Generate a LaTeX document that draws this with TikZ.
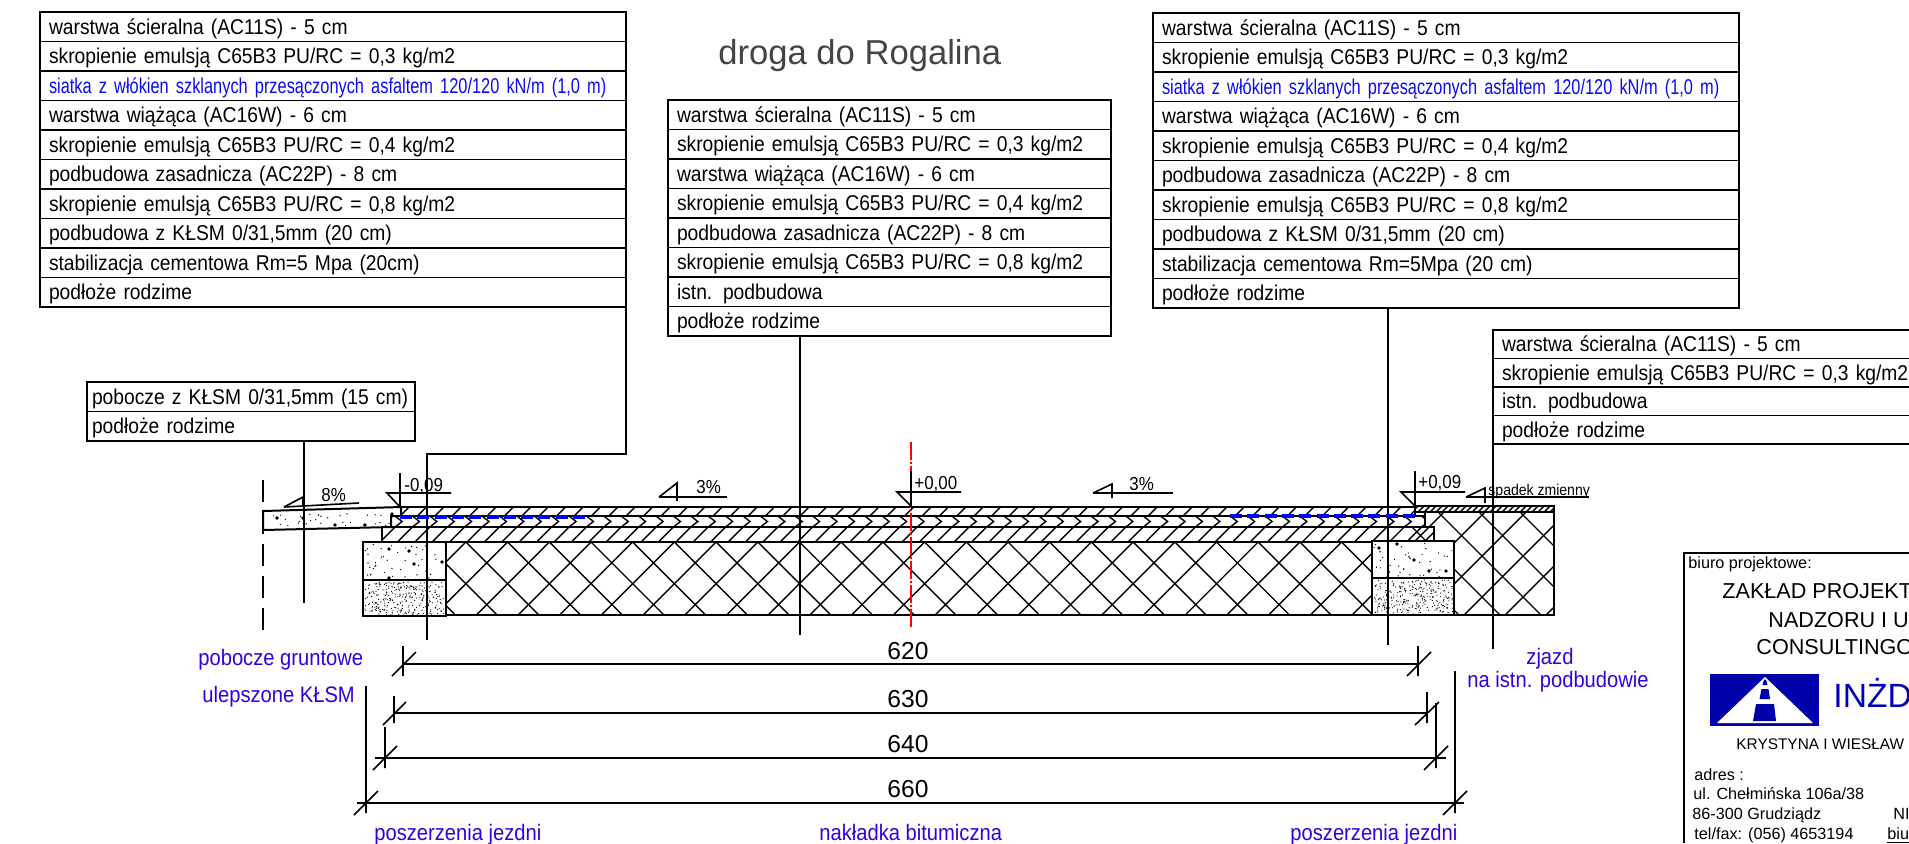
\documentclass[tikz,border=0pt]{standalone}
\usepackage{fontspec}
\setmainfont{Liberation Sans}
\newfontfamily\waski[FakeStretch=0.9]{Liberation Sans}
\newfontfamily\waskisiatka[FakeStretch=0.765]{Liberation Sans}
\usetikzlibrary{positioning}
\definecolor{opisniebieski}{HTML}{3300DD}
\definecolor{siatka}{HTML}{0A0AEE}
\definecolor{logoniebieski}{HTML}{0000AA}
\definecolor{tytul}{HTML}{444444}
\tikzset{
	wiersz/.style={draw, line width=.8pt, anchor=north west, outer sep=0pt, inner ysep=0pt, inner xsep=4.5pt,
		minimum height=14.75pt, text height=9pt, text depth=1.75pt, align=left, node distance=0pt,
		font=\waski\fontsize{10.7}{12}\selectfont},
	wiersz1/.style={wiersz, text width=284pt},
	wiersz2/.style={wiersz, text width=212.5pt},
	wiersz3/.style={wiersz, text width=284pt},
	wiersz4/.style={wiersz, text width=204pt, minimum height=14.25pt},
	wiersz5/.style={wiersz, text width=159pt, inner xsep=2.5pt},
	siatkowy/.style={text=siatka, font=\waskisiatka\fontsize{10.7}{12}\selectfont},
	opis/.style={inner sep=0pt, anchor=base west},
	niebieski/.style={opis, text=opisniebieski, font=\waski\fontsize{11.2}{12}\selectfont},
	rzedna/.style={opis, font=\waski\fontsize{9.4}{12}\selectfont},
	wymiar/.style={inner sep=0pt, anchor=base, font=\fontsize{12.3}{14}\selectfont},
	biuro/.style={opis, font=\fontsize{8.1}{10}\selectfont},
	firma/.style={opis, font=\fontsize{10.8}{12}\selectfont},
	gruba/.style={line width=1pt},
	linia/.style={line width=.8pt},
	hatch/.style={line width=.7pt}
}
\begin{document}
\begin{tikzpicture}[x=0.5pt,y=-0.5pt]
		\useasboundingbox (0,0) rectangle (1909,843);
		\clip (0,0) rectangle (1909,843);
		% tabele warstw
		\node [wiersz1] (a1) at (40,12) {warstwa ścieralna (AC11S) - 5 cm};
		\node [wiersz1,below=of a1] (a2) {skropienie emulsją C65B3 PU/RC = 0,3 kg/m2};
		\node [wiersz1,siatkowy,below=of a2] (a3) {siatka z włókien szklanych przesączonych asfaltem 120/120 kN/m (1,0 m)};
		\node [wiersz1,below=of a3] (a4) {warstwa wiążąca (AC16W) - 6 cm};
		\node [wiersz1,below=of a4] (a5) {skropienie emulsją C65B3 PU/RC = 0,4 kg/m2};
		\node [wiersz1,below=of a5] (a6) {podbudowa zasadnicza (AC22P) - 8 cm};
		\node [wiersz1,below=of a6] (a7) {skropienie emulsją C65B3 PU/RC = 0,8 kg/m2};
		\node [wiersz1,below=of a7] (a8) {podbudowa z KŁSM 0/31,5mm (20 cm)};
		\node [wiersz1,below=of a8] (a9) {stabilizacja cementowa Rm=5 Mpa (20cm)};
		\node [wiersz1,below=of a9] (a10) {podłoże rodzime};

		\node [wiersz2] (b1) at (668,100) {warstwa ścieralna (AC11S) - 5 cm};
		\node [wiersz2,below=of b1] (b2) {skropienie emulsją C65B3 PU/RC = 0,3 kg/m2};
		\node [wiersz2,below=of b2] (b3) {warstwa wiążąca (AC16W) - 6 cm};
		\node [wiersz2,below=of b3] (b4) {skropienie emulsją C65B3 PU/RC = 0,4 kg/m2};
		\node [wiersz2,below=of b4] (b5) {podbudowa zasadnicza (AC22P) - 8 cm};
		\node [wiersz2,below=of b5] (b6) {skropienie emulsją C65B3 PU/RC = 0,8 kg/m2};
		\node [wiersz2,below=of b6] (b7) {istn. podbudowa};
		\node [wiersz2,below=of b7] (b8) {podłoże rodzime};

		\node [wiersz3] (c1) at (1153,13) {warstwa ścieralna (AC11S) - 5 cm};
		\node [wiersz3,below=of c1] (c2) {skropienie emulsją C65B3 PU/RC = 0,3 kg/m2};
		\node [wiersz3,siatkowy,below=of c2] (c3) {siatka z włókien szklanych przesączonych asfaltem 120/120 kN/m (1,0 m)};
		\node [wiersz3,below=of c3] (c4) {warstwa wiążąca (AC16W) - 6 cm};
		\node [wiersz3,below=of c4] (c5) {skropienie emulsją C65B3 PU/RC = 0,4 kg/m2};
		\node [wiersz3,below=of c5] (c6) {podbudowa zasadnicza (AC22P) - 8 cm};
		\node [wiersz3,below=of c6] (c7) {skropienie emulsją C65B3 PU/RC = 0,8 kg/m2};
		\node [wiersz3,below=of c7] (c8) {podbudowa z KŁSM 0/31,5mm (20 cm)};
		\node [wiersz3,below=of c8] (c9) {stabilizacja cementowa Rm=5Mpa (20 cm)};
		\node [wiersz3,below=of c9] (c10) {podłoże rodzime};

		\node [wiersz4] (d1) at (1493,330) {warstwa ścieralna (AC11S) - 5 cm};
		\node [wiersz4,below=of d1] (d2) {skropienie emulsją C65B3 PU/RC = 0,3 kg/m2};
		\node [wiersz4,below=of d2] (d3) {istn. podbudowa};
		\node [wiersz4,below=of d3] (d4) {podłoże rodzime};

		\node [wiersz5] (e1) at (87,382) {pobocze z KŁSM 0/31,5mm (15 cm)};
		\node [wiersz5,below=of e1] (e2) {podłoże rodzime};

		\node [opis,text=tytul,font=\fontsize{17.3}{20}\selectfont] (tytul) at (718,64) {droga do Rogalina};

		% warstwy
		\begin{scope}
		\clip (401,507) rectangle (1415,516);
		\foreach \x in {400,417.4,...,1420} \draw [hatch] (\x,516) -- ++(9,-9);
		\end{scope}
		\begin{scope}
		\clip (391,516) rectangle (1425,527);
		\foreach \x in {395,412.4,...,1430} \draw [hatch] (\x,516) -- ++(7,5.5) -- ++(-7,5.5);
		\end{scope}
		\begin{scope}
		\clip (382,527) rectangle (1434,542);
		\foreach \x in {380,397.4,...,1440} \draw [hatch] (\x,542) -- ++(15,-15);
		\end{scope}
		\begin{scope}
		\clip (1415,506) rectangle (1554,512);
		\foreach \x in {1412,1418,...,1560} \draw [hatch] (\x,512) -- ++(6,-6);
		\end{scope}
		% kruszywo pod nawierzchnia
		\begin{scope}
		\clip (446,542) rectangle (1372,615);
		\foreach \n in {-16,...,11} {
			\pgfmathsetmacro\x{1008+41.7*\n}
			\draw [hatch] (\x,542) -- ++(-73,73);
			\draw [hatch] (\x,542) -- ++(73,73);
		}
		\end{scope}
		\begin{scope}
		\clip (1425,512) -- (1554,512) -- (1554,615) -- (1454,615) -- (1454,542) -- (1410,542) -- (1410,527) -- (1425,527) -- cycle;
		\foreach \n in {-3,...,6} {
			\pgfmathsetmacro\x{1441+41*\n}
			\draw [hatch] (\x-10,505) -- ++(120,120);
			\draw [hatch] (\x+10,505) -- ++(-120,120);
		}
		\end{scope}
		\draw [gruba] (401,516) rectangle (1415,507);
		\draw [gruba] (391,516) rectangle (1425,527);
		\draw [gruba] (382,527) rectangle (1434,542);
		\draw [gruba] (1415,506) -- (1554,506) -- (1554,615) -- (446,615);
		\draw [gruba] (1415,512) -- (1554,512);
		\draw [gruba] (1425,516) -- (1425,512);
		\draw [gruba] (1434,527) -- (1434,542) -- (1454,542);

		% krawezniki i pobocze
		\draw [gruba,fill=white] (363,542) rectangle (446,580);
		\draw [gruba,fill=white] (363,580) rectangle (446,616);
		\draw [gruba,fill=white] (1372,541) rectangle (1454,578);
		\draw [gruba,fill=white] (1372,578) rectangle (1454,615);
		\draw [gruba,fill=white] (263,511) -- (401,507) -- (401,516) -- (391,516) -- (391,527) -- (263,530) -- cycle;
		\pgfmathsetseed{7}
		\foreach \i in {1,...,30} {
			\pgfmathsetmacro\px{266+125*rnd}
			\pgfmathsetmacro\py{513+13*rnd}
			\fill (\px,\py) circle (.35pt);
		}
		\foreach \px/\py in {277/518,303/518,335/525,365/525,392/514} \fill (\px,\py) circle (.9pt);
		\foreach \a/\b in {363/542,1372/541} {
			\foreach \i in {1,...,40} {
				\pgfmathsetmacro\px{\a+2+79*rnd}
				\pgfmathsetmacro\py{\b+2+34*rnd}
				\fill (\px,\py) circle (.35pt);
			}
		}
		\foreach \px/\py in {389/549,409/551,414/564,442/562,389/578,1379/548,1397/544,1414/560,1429/571,1446/571} \fill (\px,\py) circle (.9pt);
		\foreach \a/\b in {363/580,1372/578} {
			\foreach \i in {1,...,300} {
				\pgfmathsetmacro\px{\a+2+79*rnd}
				\pgfmathsetmacro\py{\b+2+33*rnd}
				\fill (\px,\py) circle (.3pt);
			}
		}

		% linie odniesienia
		\coordinate (k1a) at (626,454);
		\coordinate (k1b) at (427,454);
		\coordinate (k1) at (427,640);
		\coordinate (k2) at (800,635);
		\coordinate (k3) at (1388,645);
		\coordinate (k4) at (1493,649);
		\coordinate (k5) at (304,603);
		\draw [linia] (a10.south east) -- (k1a) -- (k1b) -- (k1);
		\draw [linia] (b8.south -| k2) -- (k2);
		\draw [linia] (c10.south -| k3) -- (k3);
		\draw [linia] (d4.south west) -- (k4);
		\draw [linia] (e2.south -| k5) -- (k5);

		% siatka i os
		\draw [line width=2pt,draw=blue,dash pattern=on 6pt off 2.65pt] (400,517) -- (585,517);
		\draw [line width=2pt,draw=blue,dash pattern=on 6pt off 2.65pt] (1230,516) -- (1415,516);
		\draw [line width=.9pt,red,dash pattern=on 9pt off 1pt on .9pt off 1pt] (911,442) -- (911,628);
		\draw [linia,dash pattern=on 11pt off 5pt] (263,480) -- (263,640);

		% spadki i rzedne
		\draw [linia] (284,507) -- (359,503);
		\draw [linia] (284,507) -- (303,497) -- (303,506);
		\node [rzedna] (sp8) at (321,501) {8\%};
		\draw [linia] (400,473) -- (400,507) -- (387,493) -- (451,493);
		\node [rzedna] (rz1) at (404,491) {-0,09};
		\draw [linia] (659,497) -- (727,497);
		\draw [linia] (659,497) -- (677,483) -- (677,501);
		\node [rzedna] (sp3a) at (696,493) {3\%};
		\draw [linia] (911,471) -- (911,506) -- (897,492) -- (961,492);
		\node [rzedna] (rz2) at (914,489) {+0,00};
		\draw [linia] (1093,493) -- (1173,493);
		\draw [linia] (1093,493) -- (1112,484) -- (1112,498);
		\node [rzedna] (sp3b) at (1129,490) {3\%};
		\draw [linia] (1415,471) -- (1415,506) -- (1401,492) -- (1465,492);
		\node [rzedna] (rz3) at (1418,488) {+0,09};
		\draw [linia] (1466,497) -- (1589,497);
		\draw [linia] (1466,497) -- (1485,488) -- (1485,503);
		\node [opis,font=\waski\fontsize{7.8}{10}\selectfont] (spz) at (1488,495) {spadek zmienny};

		% wymiary
		\coordinate (w1l) at (403,664);
		\coordinate (w1p) at (1418,664);
		\coordinate (w2l) at (394,713);
		\coordinate (w2p) at (1427,713);
		\coordinate (w3l) at (385,758);
		\coordinate (w3p) at (1436,758);
		\coordinate (w4l) at (366,803);
		\coordinate (w4p) at (1455,803);
		\draw [linia] (w1l) -- (w1p);
		\draw [linia] (w2l) -- (w2p);
		\draw [linia] ([xshift=-5pt]w3l) -- ([xshift=5pt]w3p);
		\draw [linia] ([xshift=-4.5pt]w4l) -- ([xshift=4.5pt]w4p);
		\draw [linia] (403,646) -- (403,676) (392,676) -- (416,652);
		\draw [linia] (1418,646) -- (1418,676) (1407,676) -- (1431,652);
		\draw [linia] (394,696) -- (394,723) (383,725) -- (406,702);
		\draw [linia] (1427,692) -- (1427,723) (1415,725) -- (1439,702);
		\draw [linia] (385,727) -- (385,768) (373,770) -- (397,746);
		\draw [linia] (1436,703) -- (1436,768) (1424,770) -- (1448,746);
		\draw [linia] (366,686) -- (366,813) (354,815) -- (378,791);
		\draw [linia] (1455,671) -- (1455,813) (1443,815) -- (1467,791);
		\node [wymiar] (d620) at (908,659) {620};
		\node [wymiar] (d630) at (908,707) {630};
		\node [wymiar] (d640) at (908,752) {640};
		\node [wymiar] (d660) at (908,797) {660};

		% opisy niebieskie
		\node [niebieski] (n1) at (198,665) {pobocze gruntowe};
		\node [niebieski] (n2) at (202,702) {ulepszone KŁSM};
		\node [niebieski] (n3) at (374,840) {poszerzenia jezdni};
		\node [niebieski] (n4) at (819,840) {nakładka bitumiczna};
		\node [niebieski] (n5) at (1290,840) {poszerzenia jezdni};
		\node [niebieski] (n6) at (1526,664) {zjazd};
		\node [niebieski] (n7) at (1467,687) {na istn. podbudowie};

		% biuro projektowe
		\draw [linia] (1909,553) -- (1684,553) -- (1684,843);
		\node [biuro] (bp) at (1688,568) {biuro projektowe:};
		\node [firma] (f1) at (1722,598) {ZAKŁAD PROJEKT};
		\node [firma] (f2) at (1768,627) {NADZORU I U};
		\node [firma] (f3) at (1756,654) {CONSULTINGO};
		\fill [logoniebieski] (1710,674) rectangle (1819,726);
		\fill [white] (1765,677) -- (1813,723) -- (1717,723) -- cycle;
		\fill [logoniebieski] (1764,679.5) -- (1766,679.5) -- (1767.5,685) -- (1762.5,685) -- cycle;
		\fill [logoniebieski] (1761.5,689) -- (1768.5,689) -- (1770,699) -- (1759.5,699) -- cycle;
		\fill [logoniebieski] (1756,704) -- (1774,704) -- (1776,721) -- (1753,721) -- cycle;
		\node [opis,text=logoniebieski!85!blue,font=\fontsize{16.8}{20}\selectfont] (f4) at (1833,707) {INŻD};
		\node [opis,font=\fontsize{7.7}{10}\selectfont] (f5) at (1736,749) {KRYSTYNA I WIESŁAW};
		\node [biuro] (ad1) at (1694,780) {adres :};
		\node [biuro] (ad2) at (1693,799) {ul. Chełmińska 106a/38};
		\node [biuro] (ad3) at (1692,819) {86-300 Grudziądz};
		\node [biuro] (ad4) at (1694,839) {tel/fax: (056) 4653194};
		\node [biuro] (ni) at (1893,819) {NI};
		\node [biuro] (bi) at (1887,839) {\underline{biu}};
\end{tikzpicture}
\end{document}
